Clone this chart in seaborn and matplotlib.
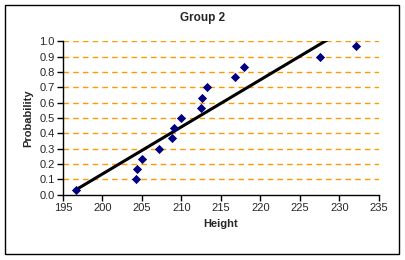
import matplotlib
matplotlib.use("Agg")
import matplotlib.pyplot as plt
import seaborn as sns
import pandas as pd
from matplotlib.patches import Rectangle

sns.set_style("white")
plt.rcParams['font.family'] = ['Liberation Sans', 'DejaVu Sans']

height = [196.6, 204.3, 204.4, 205.0, 207.2, 208.8, 209.1, 210.0,
          212.5, 212.6, 213.3, 216.8, 217.9, 227.6, 232.1]
probability = [0.033, 0.100, 0.167, 0.233, 0.300, 0.367, 0.433, 0.500,
               0.567, 0.633, 0.700, 0.767, 0.833, 0.900, 0.967]
x_ticks = [195, 200, 205, 210, 215, 220, 225, 230, 235]
y_ticks = [0.0, 0.1, 0.2, 0.3, 0.4, 0.5, 0.6, 0.7, 0.8, 0.9, 1.0]

df = pd.DataFrame({"Height": height, "Probability": probability})

fig = plt.figure(figsize=(4.06, 2.60), dpi=100)
ax = fig.add_axes([0.155, 0.251, 0.778, 0.590])

for yv in y_ticks[1:]:
    ax.axhline(yv, color="#FF9900", linestyle=(0, (4, 3)), linewidth=1.0, zorder=0)

sns.regplot(data=df, x="Height", y="Probability", ax=ax, ci=None, truncate=True,
            scatter=False, line_kws=dict(color="black", linewidth=2.2, zorder=2))
sns.scatterplot(data=df, x="Height", y="Probability", ax=ax, marker="D",
                color="#000080", s=22, edgecolor="#000080", linewidth=0, zorder=3)

ax.set_xlim(195, 235)
ax.set_ylim(0, 1.0)
ax.set_xticks(x_ticks)
ax.set_yticks(y_ticks)
ax.set_yticklabels([f"{v:.1f}" for v in y_ticks])
ax.set_xticklabels([str(v) for v in x_ticks])
ax.tick_params(axis="both", direction="out", length=4, width=1, color="black",
               labelsize=8, pad=2, left=True, bottom=True)
for s in ["top", "right"]:
    ax.spines[s].set_visible(False)
for s in ["left", "bottom"]:
    ax.spines[s].set_color("black")
    ax.spines[s].set_linewidth(1.0)
ax.set_xlabel("")
ax.set_ylabel("")

fig.text(203 / 406, 1 - 18 / 260, "Group 2", ha="center", va="center",
         fontsize=8.5, fontweight="bold")
fig.text(221 / 406, 1 - 224 / 260, "Height", ha="center", va="center",
         fontsize=8, fontweight="bold")
fig.text(28 / 406, 1 - 118 / 260, "Probability", ha="center", va="center",
         rotation=90, fontsize=8, fontweight="bold")

fig.patches.append(Rectangle((5 / 406, 1 - 254 / 260), 394 / 406, 249 / 260,
                             transform=fig.transFigure, fill=False,
                             edgecolor="black", linewidth=1.0))

fig.savefig("out.png", dpi=100)
